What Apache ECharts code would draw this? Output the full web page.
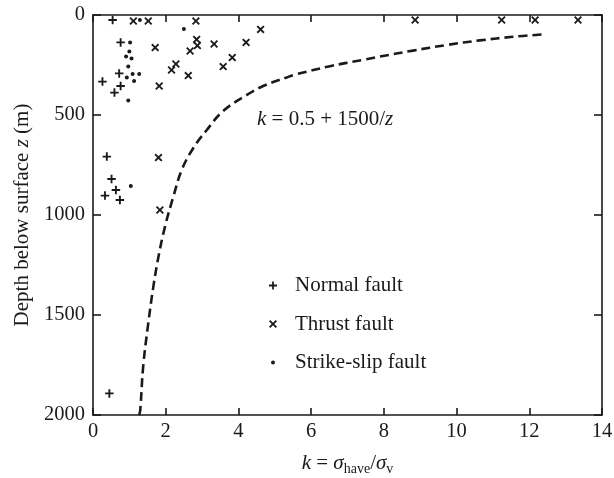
<!DOCTYPE html>
<html>
<head>
<meta charset="utf-8">
<script src="https://cdn.jsdelivr.net/npm/echarts@6/dist/echarts.min.js"></script>
<style>
html,body{margin:0;padding:0;background:#fff;}
#chart{width:614px;height:478px;}
</style>
</head>
<body>
<div id="chart"></div>
<script>
// Normal fault (+)
const normalK = [0.54, 0.76, 0.72, 0.26, 0.76, 0.59, 0.38, 0.51, 0.63, 0.33, 0.74, 0.45];
const normalZ = [25, 137, 292, 333, 355, 388, 708, 820, 875, 903, 925, 1892];
// Thrust fault (x)
const thrustK = [1.11, 1.52, 2.83, 8.86, 11.24, 12.16, 13.34, 4.61, 2.85, 2.87, 2.67, 3.33, 4.21, 1.71, 3.83, 3.58, 2.28, 2.16, 2.62, 1.82, 1.80, 1.84];
const thrustZ = [30, 30, 30, 25, 25, 25, 25, 72, 122, 153, 180, 145, 137, 163, 213, 258, 245, 275, 303, 355, 713, 975];
// Strike-slip fault (dot)
const strikeK = [1.29, 2.50, 1.02, 1.00, 0.91, 1.06, 0.97, 1.09, 1.27, 0.93, 1.13, 0.97, 1.04];
const strikeZ = [25, 70, 138, 183, 208, 217, 258, 295, 295, 313, 330, 428, 855];
// Dashed curve k = 0.5 + 1500/z
const curveK = [1.27, 1.30, 1.38, 1.52, 1.66, 1.81, 1.98, 2.21, 2.44, 2.76, 3.13, 3.58, 4.23, 4.68, 5.33, 5.60, 6.52, 7.43, 7.89, 8.80, 9.73, 10.64, 11.55, 12.38];
const curveZ = [2000, 1975, 1758, 1542, 1358, 1200, 1058, 908, 775, 665, 575, 480, 400, 355, 312, 296, 256, 224, 208, 178, 150, 127, 109, 97];

const seriesNames = ['Normal fault', 'Thrust fault', 'Strike-slip fault'];

const pairs = (a, b) => a.map((v, i) => [v, b[i]]);

const FONT = '"Liberation Serif", "DejaVu Serif", serif';
const plusPath = 'path://M3.9,0H6.1V3.9H10V6.1H6.1V10H3.9V6.1H0V3.9H3.9Z';
const crossPath = 'path://M0,1.6L1.6,0L5,3.4L8.4,0L10,1.6L6.6,5L10,8.4L8.4,10L5,6.6L1.6,10L0,8.4L3.4,5Z';
const dotLegendPath = 'path://M0,0L0,0M8,8L8,8M2,4A2,2,0,1,0,6,4A2,2,0,1,0,2,4Z';

const axisLineStyle = {color: '#1a1a1a', width: 1.6};
const plain = v => String(v);

const chart = echarts.init(document.getElementById('chart'), null, {renderer: 'canvas'});
chart.setOption({
  backgroundColor: '#fff',
  animation: false,
  textStyle: {fontFamily: FONT},
  grid: {left: 93, right: 12, top: 15, bottom: 63, containLabel: false, outerBoundsMode: 'none'},
  xAxis: [{
    type: 'value', min: 0, max: 14, interval: 2, position: 'bottom',
    axisLine: {show: true, onZero: false, lineStyle: axisLineStyle},
    axisTick: {show: true, inside: true, length: 7, lineStyle: axisLineStyle},
    axisLabel: {color: '#1a1a1a', fontSize: 20.5, fontFamily: FONT, margin: 6, formatter: plain},
    splitLine: {show: false},
    name: '{i|k} = {i|σ}{s|have}/{i|σ}{s|v}',
    nameLocation: 'middle', nameGap: 35,
    nameTextStyle: {
      color: '#1a1a1a', fontSize: 21, fontFamily: FONT, lineHeight: 26,
      rich: {
        i: {fontStyle: 'italic', fontSize: 21, fontFamily: FONT, color: '#1a1a1a', lineHeight: 26},
        s: {fontSize: 14, fontFamily: FONT, color: '#1a1a1a', verticalAlign: 'bottom', lineHeight: 14}
      }
    }
  }, {
    type: 'value', min: 0, max: 14, interval: 2, position: 'top',
    axisLine: {show: true, onZero: false, lineStyle: axisLineStyle},
    axisTick: {show: true, inside: true, length: 7, lineStyle: axisLineStyle},
    axisLabel: {show: false},
    splitLine: {show: false}
  }],
  yAxis: [{
    type: 'value', min: 0, max: 2000, interval: 500, inverse: true, position: 'left',
    axisLine: {show: true, onZero: false, lineStyle: axisLineStyle},
    axisTick: {show: true, inside: true, length: 8, lineStyle: axisLineStyle},
    axisLabel: {color: '#1a1a1a', fontSize: 20.5, fontFamily: FONT, margin: 8, formatter: plain},
    splitLine: {show: false},
    name: 'Depth below surface {i|z} (m)',
    nameLocation: 'middle', nameGap: 57,
    nameTextStyle: {
      color: '#1a1a1a', fontSize: 21, fontFamily: FONT,
      rich: {i: {fontStyle: 'italic', fontSize: 21, fontFamily: FONT, color: '#1a1a1a'}}
    }
  }, {
    type: 'value', min: 0, max: 2000, interval: 500, inverse: true, position: 'right',
    axisLine: {show: true, onZero: false, lineStyle: axisLineStyle},
    axisTick: {show: true, inside: true, length: 8, lineStyle: axisLineStyle},
    axisLabel: {show: false},
    splitLine: {show: false}
  }],
  legend: {
    orient: 'vertical', left: 269, top: 275, padding: 0,
    itemWidth: 8, itemHeight: 8, itemGap: 17.5,
    textStyle: {color: '#1a1a1a', fontSize: 21, fontFamily: FONT, lineHeight: 20, padding: [0, 0, 0, 13]},
    data: [
      {name: seriesNames[0], icon: plusPath},
      {name: seriesNames[1], icon: crossPath},
      {name: seriesNames[2], icon: dotLegendPath}
    ]
  },
  graphic: [{
    type: 'text', left: 257, top: 109,
    style: {
      text: '{i|k} = 0.5 + 1500/{i|z}',
      fill: '#1a1a1a', fontSize: 21, fontFamily: FONT,
      rich: {i: {fontStyle: 'italic', fontSize: 21, fontFamily: FONT, fill: '#1a1a1a'}}
    }
  }],
  series: [{
    name: 'curve', type: 'line', smooth: 0.4, symbol: 'none',
    data: pairs(curveK, curveZ),
    lineStyle: {color: '#1a1a1a', width: 2.6, type: [9, 5]},
    z: 1
  }, {
    name: seriesNames[0], type: 'scatter', symbol: plusPath, symbolSize: 8.5,
    data: pairs(normalK, normalZ),
    itemStyle: {color: '#1a1a1a', opacity: 1}
  }, {
    name: seriesNames[1], type: 'scatter', symbol: crossPath, symbolSize: 8,
    data: pairs(thrustK, thrustZ),
    itemStyle: {color: '#1a1a1a', opacity: 1}
  }, {
    name: seriesNames[2], type: 'scatter', symbol: 'circle', symbolSize: 4,
    data: pairs(strikeK, strikeZ),
    itemStyle: {color: '#1a1a1a', opacity: 1}
  }]
});
</script>
</body>
</html>
